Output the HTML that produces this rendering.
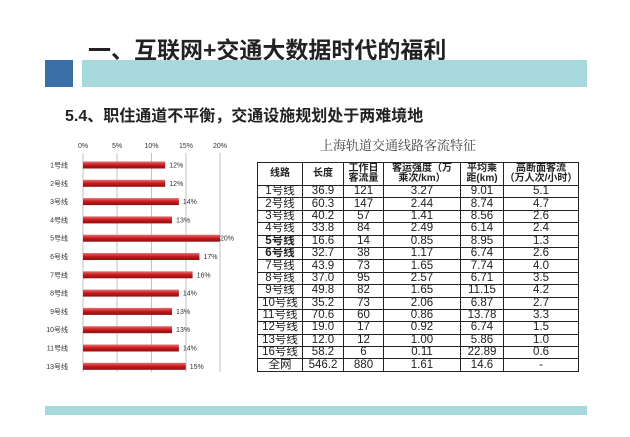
<!DOCTYPE html>
<html><head><meta charset="utf-8"><style>
body{margin:0;width:630px;height:437px;background:#fff;position:relative;overflow:hidden;font-family:"Liberation Sans","Noto Sans CJK SC",sans-serif}
.a{position:absolute}
table{border-collapse:collapse;position:absolute;left:257px;top:162px;width:321px;font-size:11.5px;text-align:center;table-layout:fixed}
td{border:1px solid #222;padding:0;height:11.4px;line-height:11px;color:#222;white-space:nowrap;overflow:hidden}
tr.h td{height:22px;font-weight:bold;line-height:10.5px;font-size:10px}
</style></head><body>
<div class="a" style="left:88px;top:31px;font-size:23px;font-weight:bold;color:#222">一、互联网+交通大数据时代的福利</div>
<div class="a" style="left:45px;top:60px;width:28px;height:27px;background:#3a6fa8"></div>
<div class="a" style="left:82px;top:60px;width:505px;height:27px;background:#a6d8dc"></div>
<div class="a" style="left:65px;top:102px;font-size:16px;font-weight:bold;color:#222">5.4、职住通道不平衡，交通设施规划处于两难境地</div>
<div class="a" style="left:45px;top:406px;width:542px;height:9px;background:#a6d8dc"></div>
<svg class="a" style="left:0;top:0" width="630" height="437" font-family="Liberation Sans,Noto Sans CJK SC,sans-serif" font-size="7" fill="#333">
<g stroke="#999" stroke-width="0.6">
<line x1="83" y1="153" x2="83" y2="372"/><line x1="117" y1="153" x2="117" y2="372"/><line x1="151.5" y1="153" x2="151.5" y2="372"/><line x1="186" y1="153" x2="186" y2="372"/><line x1="220" y1="153" x2="220" y2="372"/>
</g>
<g text-anchor="middle"><text x="83" y="148">0%</text><text x="117" y="148">5%</text><text x="151.5" y="148">10%</text><text x="186" y="148">15%</text><text x="220" y="148">20%</text></g>
<defs><linearGradient id="g" x1="0" y1="0" x2="0" y2="1"><stop offset="0" stop-color="#e87070"/><stop offset="0.5" stop-color="#c8181c"/><stop offset="1" stop-color="#8a1010"/></linearGradient></defs>
<g id="bars"></g>
</svg>
<div class="a" style="left:320px;top:135px;font-size:13px;color:#444;font-family:'Liberation Serif','Noto Serif CJK SC',serif">上海轨道交通线路客流特征</div>
<table>
<colgroup><col style="width:45px"><col style="width:41px"><col style="width:40px"><col style="width:77px"><col style="width:43px"><col style="width:75px"></colgroup>
<tr class="h"><td>线路</td><td>长度</td><td>工作日<br>客流量</td><td>客运强度（万<br>乘次/km）</td><td>平均乘<br>距(km)</td><td>高断面客流<br>（万人次/小时）</td></tr>
<tr><td>1号线</td><td>36.9</td><td>121</td><td>3.27</td><td>9.01</td><td>5.1</td></tr>
<tr><td>2号线</td><td>60.3</td><td>147</td><td>2.44</td><td>8.74</td><td>4.7</td></tr>
<tr><td>3号线</td><td>40.2</td><td>57</td><td>1.41</td><td>8.56</td><td>2.6</td></tr>
<tr><td>4号线</td><td>33.8</td><td>84</td><td>2.49</td><td>6.14</td><td>2.4</td></tr>
<tr><td><b>5号线</b></td><td>16.6</td><td>14</td><td>0.85</td><td>8.95</td><td>1.3</td></tr>
<tr><td><b>6号线</b></td><td>32.7</td><td>38</td><td>1.17</td><td>6.74</td><td>2.6</td></tr>
<tr><td>7号线</td><td>43.9</td><td>73</td><td>1.65</td><td>7.74</td><td>4.0</td></tr>
<tr><td>8号线</td><td>37.0</td><td>95</td><td>2.57</td><td>6.71</td><td>3.5</td></tr>
<tr><td>9号线</td><td>49.8</td><td>82</td><td>1.65</td><td>11.15</td><td>4.2</td></tr>
<tr><td>10号线</td><td>35.2</td><td>73</td><td>2.06</td><td>6.87</td><td>2.7</td></tr>
<tr><td>11号线</td><td>70.6</td><td>60</td><td>0.86</td><td>13.78</td><td>3.3</td></tr>
<tr><td>12号线</td><td>19.0</td><td>17</td><td>0.92</td><td>6.74</td><td>1.5</td></tr>
<tr><td>13号线</td><td>12.0</td><td>12</td><td>1.00</td><td>5.86</td><td>1.0</td></tr>
<tr><td>16号线</td><td>58.2</td><td>6</td><td>0.11</td><td>22.89</td><td>0.6</td></tr>
<tr><td>全网</td><td>546.2</td><td>880</td><td>1.61</td><td>14.6</td><td>-</td></tr>
</table>
<script>
var n=["1号线","2号线","3号线","4号线","5号线","6号线","7号线","8号线","9号线","10号线","11号线","13号线"],v=[12,12,14,13,20,17,16,14,13,13,14,15],s="";
for(var i=0;i<12;i++){var y=165+i*18.3,w=v[i]*6.85;
s+='<rect x="83" y="'+(y-3.5)+'" width="'+w+'" height="7" fill="url(#g)"/>';
s+='<text x="68" y="'+(y+2.5)+'" text-anchor="end">'+n[i]+'</text>';
s+='<text x="'+(83+w+(v[i]==20?0:4))+'" y="'+(y+2.5)+'">'+v[i]+'%</text>';}
document.getElementById("bars").innerHTML=s;
</script>
</body></html>
